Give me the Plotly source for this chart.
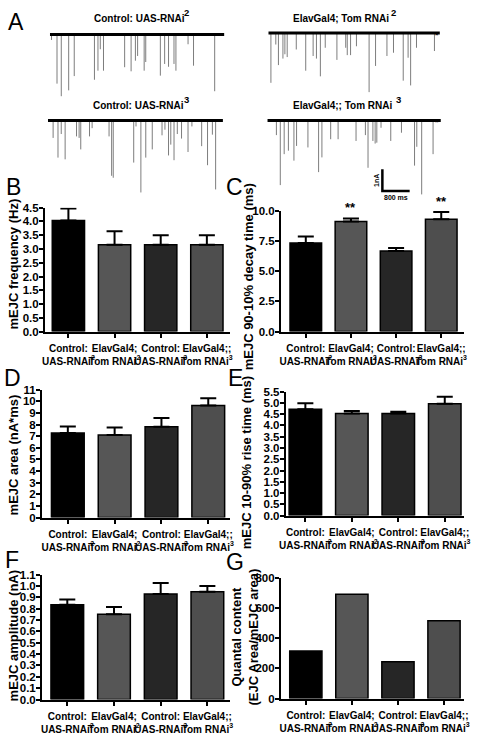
import plotly.graph_objects as go

W, H = 481, 738
FONT = "Liberation Sans, Arial, sans-serif"

# ---------------- Panel A: mEJC traces (spike time in ms, amplitude in nA) ----------------
T1_TIME = [48, 209, 334, 551, 714, 1306, 1409, 1477, 1571, 2191, 2380, 2506, 2571, 2763, 2809,
           3237, 3363, 3477, 3637, 3694, 4049, 4209, 4829]
T1_AMP = [0.25, 2.27, 2.85, 2.58, 1.92, 2.09, 1.67, 0.68, 1.67, 1.51, 1.70, 1.21, 0.99, 1.67, 1.27,
          1.90, 1.36, 1.49, 1.36, 1.67, 0.45, 1.44, 2.62]

T2_TIME = [77, 220, 297, 429, 486, 554, 820, 1097, 1314, 1411, 1526, 1669, 2011, 2269, 2314, 2411,
           2583, 2954, 3143, 3477, 3669, 3954, 4097, 4171, 4343, 4869]
T2_AMP = [2.30, 0.53, 1.48, 1.18, 0.98, 1.11, 0.76, 1.74, 1.06, 1.18, 2.00, 0.68, 1.24, 0.68, 1.02, 1.02,
          0.61, 2.73, 1.52, 1.06, 0.91, 2.20, 1.14, 2.42, 0.68, 0.83]

T3_TIME = [152, 295, 390, 504, 838, 914, 962, 1219, 1295, 1791, 1867, 1914, 2514, 2581, 2724, 2867,
           3057, 3343, 3429, 3534, 3600, 3695, 3791, 3915, 4105, 4219, 4505, 4677, 4819, 4914]
T3_AMP = [0.80, 1.71, 0.62, 1.79, 0.73, 0.80, 1.33, 0.73, 0.35, 0.73, 2.55, 2.64, 1.94, 0.27, 3.32, 1.71,
          1.33, 0.68, 0.42, 1.61, 1.11, 1.83, 0.62, 0.83, 1.45, 0.27, 1.18, 2.06, 0.65, 3.18]

T4_TIME = [266, 380, 494, 618, 780, 857, 1190, 1503, 1600, 1857, 2074, 2600, 2874, 2951, 3094, 3160,
           3209, 3332, 3617, 3931, 4314, 4380, 4523, 4857]
T4_AMP = [0.67, 2.98, 1.55, 1.39, 1.85, 1.17, 1.24, 2.38, 1.70, 0.86, 0.86, 0.94, 0.67, 2.18, 0.94, 1.06,
          1.02, 0.33, 0.94, 0.56, 2.08, 1.21, 3.41, 1.55]

TRACE_TITLES = ["Control: UAS-RNAi", "ElavGal4; Tom RNAi", "Control: UAS-RNAi", "ElavGal4;; Tom RNAi"]
TRACE_SUP = ["2", "2", "3", "3"]

SCALE_MS = 800
SCALE_NA = 1

# ---------------- Bar panels ----------------
CATEGORIES = ["Control:<br>UAS-RNAi<sup>2</sup>", "ElavGal4;<br>Tom RNAi<sup>2</sup>",
              "Control:<br>UAS-RNAi<sup>3</sup>", "ElavGal4;;<br>Tom RNAi<sup>3</sup>"]
BAR_COLORS = ["#000000", "#565656", "#262626", "#4e4e4e"]

B_MEAN = [4.03, 3.15, 3.15, 3.15]
B_ERR = [0.44, 0.49, 0.35, 0.35]

C_MEAN = [7.33, 9.1, 6.67, 9.29]
C_ERR = [0.53, 0.25, 0.24, 0.6]
C_SIG = ["", "**", "", "**"]

D_MEAN = [7.28, 7.1, 7.81, 9.64]
D_ERR = [0.56, 0.65, 0.76, 0.62]

E_MEAN = [4.72, 4.53, 4.53, 4.96]
E_ERR = [0.26, 0.11, 0.08, 0.31]

F_MEAN = [0.835, 0.75, 0.93, 0.95]
F_ERR = [0.045, 0.065, 0.095, 0.05]

G_VAL = [314, 690, 243, 514]

# ---------------- helpers ----------------
def px(x):
    return x / W


def py(y):
    return 1 - y / H


MS_PER_PX = 800 / 28.0
NA_PER_PX = 1 / 22.0

fig = go.Figure()
layout = dict(
    width=W, height=H, margin=dict(l=0, r=0, t=0, b=0, pad=0),
    paper_bgcolor="white", plot_bgcolor="rgba(0,0,0,0)", showlegend=False,
    font=dict(family=FONT, color="black"),
)
annotations = []

# trace placement: (x start px, length px, baseline y px)
TRACE_POS = [(45, 179, 29), (269, 176, 27.5), (43, 179.5, 116.5), (268, 178, 116.5)]
TRACE_DATA = [(T1_TIME, T1_AMP), (T2_TIME, T2_AMP), (T3_TIME, T3_AMP), (T4_TIME, T4_AMP)]
TITLE_POS = [(136.5, 13, 185.5, 6.5), (344, 13, 397.5, 6.5), (136, 101.5, 185, 95), (345.5, 101.5, 402.5, 95)]

for i, ((x0, lpx, base), (tt, aa)) in enumerate(zip(TRACE_POS, TRACE_DATA)):
    n = i + 1
    top, bottom = base - 12, base + 82
    layout[f"xaxis{n}"] = dict(domain=[px(x0), px(x0 + lpx)], range=[0, lpx * MS_PER_PX],
                               visible=False, anchor=f"y{n}", fixedrange=True)
    layout[f"yaxis{n}"] = dict(domain=[py(bottom), py(top)],
                               range=[-(bottom - base) * NA_PER_PX, (base - top) * NA_PER_PX],
                               visible=False, anchor=f"x{n}", fixedrange=True)
    xs, ys = [], []
    for t, a in zip(tt, aa):
        xs += [t, t, None]
        ys += [0, -a, None]
    fig.add_trace(go.Scatter(x=xs, y=ys, mode="lines", line=dict(color="#7d7d7d", width=1),
                             xaxis=f"x{n}", yaxis=f"y{n}", hoverinfo="skip"))
    fig.add_trace(go.Scatter(x=[0, lpx * MS_PER_PX], y=[0, 0], mode="lines",
                             line=dict(color="black", width=3),
                             xaxis=f"x{n}", yaxis=f"y{n}", hoverinfo="skip"))
    tx, ty, sx, sy = TITLE_POS[i]
    annotations.append(dict(x=px(tx), y=py(ty), xref="paper", yref="paper", text=TRACE_TITLES[i],
                            showarrow=False, xanchor="center", yanchor="middle",
                            font=dict(size=10, family=FONT, weight="bold")))
    annotations.append(dict(x=px(sx), y=py(sy), xref="paper", yref="paper", text=TRACE_SUP[i],
                            showarrow=False, xanchor="center", yanchor="middle",
                            font=dict(size=9.5, family=FONT, weight="bold")))

# small end markers on the right traces
for (mx, my) in [(446, 22), (446, 111)]:
    annotations.append(dict(x=px(mx), y=py(my), xref="paper", yref="paper", text="*",
                            showarrow=False, font=dict(size=9, family=FONT, weight="bold")))

# scale bar drawn in trace-4 units
sb_t0 = (386 - 268) * MS_PER_PX
sb_y0 = -(188 - 116.5) * NA_PER_PX
fig.add_trace(go.Scatter(x=[sb_t0, sb_t0, sb_t0 + SCALE_MS], y=[sb_y0 + SCALE_NA, sb_y0, sb_y0],
                         mode="lines", line=dict(color="black", width=2.5),
                         xaxis="x4", yaxis="y4", hoverinfo="skip"))
annotations.append(dict(x=sb_t0 + SCALE_MS / 2, y=sb_y0, xref="x4", yref="y4", text="800 ms",
                        showarrow=False, yanchor="top", yshift=-1,
                        font=dict(size=7, family=FONT, weight="bold")))
annotations.append(dict(x=sb_t0, y=sb_y0 + SCALE_NA / 2, xref="x4", yref="y4", text="1nA",
                        showarrow=False, xanchor="right", xshift=-1, textangle=-90,
                        font=dict(size=7, family=FONT, weight="bold")))

# bar panels: (values, errors, x domain px, y domain px (top,bottom), x range, y top, dtick, fmt)
PANELS = [
    (B_MEAN, B_ERR, (40, 230), (205, 331), (-0.507, 3.507), 4.5, 0.5, ".1f"),
    (C_MEAN, C_ERR, (282, 470), (208, 331), (-0.55, 3.51), 10, 2.5, ".1f"),
    (D_MEAN, D_ERR, (37, 230), (390, 520), (-0.55, 3.47), 11, 1, "d"),
    (E_MEAN, E_ERR, (287, 470), (392, 518), (-0.42, 3.42), 5.5, 0.5, ".1f"),
    (F_MEAN, F_ERR, (37, 230), (578, 705), (-0.54, 3.49), 1.1, 0.1, ".1f"),
    (G_VAL, None, (282, 470), (581, 704), (-0.54, 3.44), 800, 200, "d"),
]

for k, (vals, errs, (xa, xb), (yt, yb), xr, ytop, dt, fmt) in enumerate(PANELS):
    n = k + 5
    layout[f"xaxis{n}"] = dict(
        domain=[px(xa), px(xb)], range=list(xr), anchor=f"y{n}",
        tickmode="array", tickvals=[0, 1, 2, 3], ticktext=CATEGORIES, tickangle=0,
        ticks="outside", ticklen=4, tickwidth=2, tickcolor="black", ticklabelstandoff=2,
        showline=True, linewidth=2, linecolor="black", showgrid=False, zeroline=False,
        tickfont=dict(size=10, family=FONT, weight="bold", color="black"), fixedrange=True)
    layout[f"yaxis{n}"] = dict(
        domain=[py(yb), py(yt)], range=[0, ytop], anchor=f"x{n}",
        tickmode="linear", tick0=0, dtick=dt, tickformat=fmt,
        ticks="outside", ticklen=4, tickwidth=2, tickcolor="black", ticklabelstandoff=-2,
        showline=True, linewidth=2, linecolor="black", showgrid=False, zeroline=False,
        tickfont=dict(size=11.5, family=FONT, weight="bold", color="black"), fixedrange=True)
    bar = dict(x=[0, 1, 2, 3], y=vals, width=0.7,
               marker=dict(color=BAR_COLORS, line=dict(color="black", width=1.5)),
               xaxis=f"x{n}", yaxis=f"y{n}", hoverinfo="skip")
    if errs is not None:
        bar["error_y"] = dict(type="data", array=errs, arrayminus=[0, 0, 0, 0], symmetric=False,
                              color="black", thickness=2, width=8)
    fig.add_trace(go.Bar(**bar))

# significance stars on panel C
for i, s in enumerate(C_SIG):
    if s:
        annotations.append(dict(x=i, y=C_MEAN[i] + C_ERR[i], xref="x6", yref="y6", text=s,
                                showarrow=False, yanchor="bottom", yshift=1,
                                font=dict(size=13, family=FONT, weight="bold")))

# y-axis titles
YTITLES = [
    ("mEJC frequency (Hz)", 8, 262),
    ("mEJC 90-10% decay time (ms)", 249, 275),
    ("mEJC area (nA*ms)", 8, 456),
    ("mEJC 10-90% rise time (ms)", 247, 464),
    ("mEJC amplitude (nA)", 8, 640),
    ("Quantal content<br>(EJC Area/mEJC area)", 245, 641),
]
for text, x, y in YTITLES:
    annotations.append(dict(x=px(x), y=py(y), xref="paper", yref="paper", text=text,
                            showarrow=False, textangle=-90, xanchor="center", yanchor="middle",
                            font=dict(size=13, family=FONT, weight="bold")))

# panel letters
LETTERS = [("A", 10.5, 16.5), ("B", 7.5, 183.5), ("C", 234, 183.5), ("D", 6.5, 378.5),
           ("E", 235, 378.5), ("F", 6.5, 563.5), ("G", 235, 565)]
for t, x, y in LETTERS:
    annotations.append(dict(x=px(x), y=py(y), xref="paper", yref="paper", text=t,
                            showarrow=False, xanchor="center", yanchor="middle",
                            font=dict(size=23, family=FONT)))

layout["annotations"] = annotations
fig.update_layout(**layout)

fig.write_html("out.html", config={"displayModeBar": False},
               post_script="document.body.style.margin='0';")
